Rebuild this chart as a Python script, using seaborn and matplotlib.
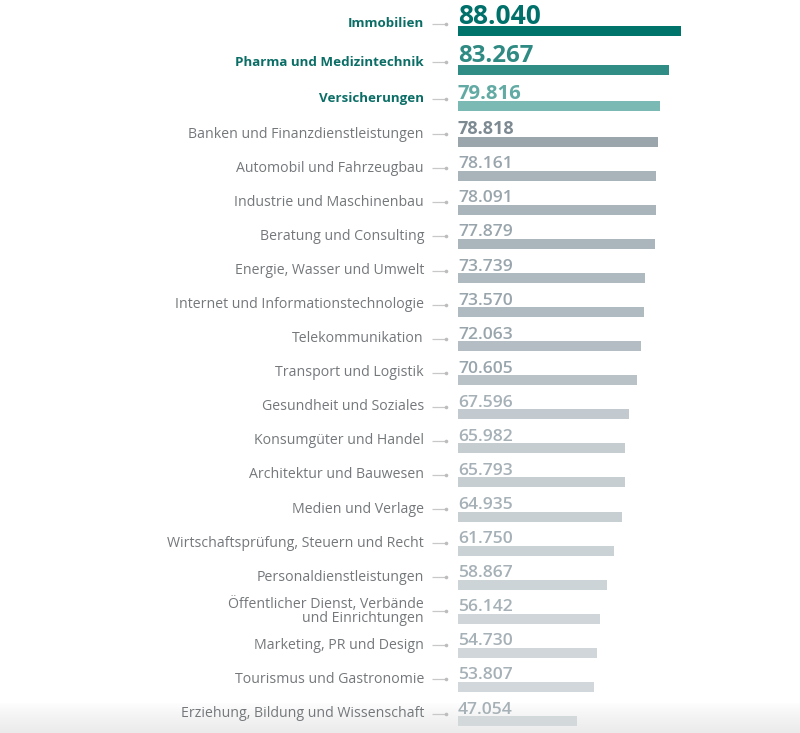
import numpy as np
import pandas as pd
import matplotlib
matplotlib.use("Agg")
import matplotlib.pyplot as plt
import seaborn as sns

categories = [
    "Immobilien", "Pharma und Medizintechnik", "Versicherungen",
    "Banken und Finanzdienstleistungen", "Automobil und Fahrzeugbau",
    "Industrie und Maschinenbau", "Beratung und Consulting",
    "Energie, Wasser und Umwelt", "Internet und Informationstechnologie",
    "Telekommunikation", "Transport und Logistik", "Gesundheit und Soziales",
    "Konsumgüter und Handel", "Architektur und Bauwesen", "Medien und Verlage",
    "Wirtschaftsprüfung, Steuern und Recht", "Personaldienstleistungen",
    "Öffentlicher Dienst, Verbände\nund Einrichtungen",
    "Marketing, PR und Design", "Tourismus und Gastronomie",
    "Erziehung, Bildung und Wissenschaft",
]
values = [88040, 83267, 79816, 78818, 78161, 78091, 77879, 73739, 73570,
          72063, 70605, 67596, 65982, 65793, 64935, 61750, 58867, 56142,
          54730, 53807, 47054]

# ---- styling ----
bar_colors = ["#00736b", "#2f8d85", "#7bbab4", "#9aa5ac", "#a9b4ba", "#aab5bb",
              "#abb6bc", "#afbac0", "#b0bbc1", "#b3bdc3", "#b8c2c7", "#c2cacf",
              "#c5cdd1", "#c6ced2", "#c8cfd3", "#cbd2d6", "#cdd4d8", "#cfd5d9",
              "#d0d6da", "#d1d7da", "#d3d8db"]
val_colors = (["#00706a", "#2e8a82", "#62aaa3", "#7d8a92"] + ["#99a5ac"] * 7
              + ["#a6b1b7"] * 10)
val_sizes = [19.0, 17.3, 14.6, 13.0] + [12.6] * 17
val_weights = ["bold", "bold", "bold", "bold"] + ["semibold"] * 17
teal_label = "#0b6e66"
gray_label = "#74787b"

FONT = "Open Sans"
plt.rcParams["font.family"] = [FONT, "DejaVu Sans"]

W, H = 800, 733
fig = plt.figure(figsize=(W / 100, H / 100), dpi=100)
fig.patch.set_facecolor("white")

# bottom background fade (behind everything)
fade = fig.add_axes([0, 0, 1, 30 / H], zorder=0)
grad = np.zeros((30, 2, 4))
grad[..., :3] = 0.925
grad[..., 3] = np.linspace(1.0, 0.0, 30)[:, None] ** 0.8
fade.imshow(grad, aspect="auto", extent=[0, 1, 0, 1], origin="lower")
fade.axis("off")

ax = fig.add_axes([0, 0, 1, 1], zorder=1)
ax.patch.set_alpha(0)

# pixel layout of rows (bar centres, from the top)
gaps = [38.3, 36.7, 35.5] + [34.08] * 17
rows = np.concatenate([[31.2], 31.2 + np.cumsum(gaps)])

x0 = 458.0                      # pixel of value 0
scale = 223.0 / 88040.0         # px per unit
px2v = lambda px: (px - x0) / scale

df = pd.DataFrame({"cat": categories, "value": values, "row": rows})
bar_h = 10.0
sns.barplot(data=df, x="value", y="row", hue="cat", palette=bar_colors,
            orient="y", native_scale=True, dodge=False, legend=False,
            width=bar_h / 34.08, ax=ax, saturation=1, linewidth=0)

ax.set_xlim(px2v(0), px2v(W))
ax.set_ylim(H, 0)
ax.axis("off")

for i, (cat, v, r) in enumerate(zip(categories, values, rows)):
    top3 = i < 3
    ly = r - 7.5
    ax.text(px2v(424), ly, cat, ha="right", va="center",
            fontsize=9.6 if top3 else 10.15,
            color=teal_label if top3 else gray_label,
            fontweight="bold" if top3 else "normal", linespacing=0.95)
    ax.plot([px2v(432), px2v(445)], [ly, ly], color="#c8c8c8", lw=0.9,
            solid_capstyle="butt")
    ax.plot([px2v(446)], [ly], marker="o", ms=2.6, color="#bdbdbd", mec="none")
    ax.text(px2v(458), r - bar_h / 2 - 2.5, f"{v:,}".replace(",", "."),
            ha="left", va="baseline", fontsize=val_sizes[i],
            color=val_colors[i], fontweight=val_weights[i])

fig.savefig("out.png", dpi=100)
